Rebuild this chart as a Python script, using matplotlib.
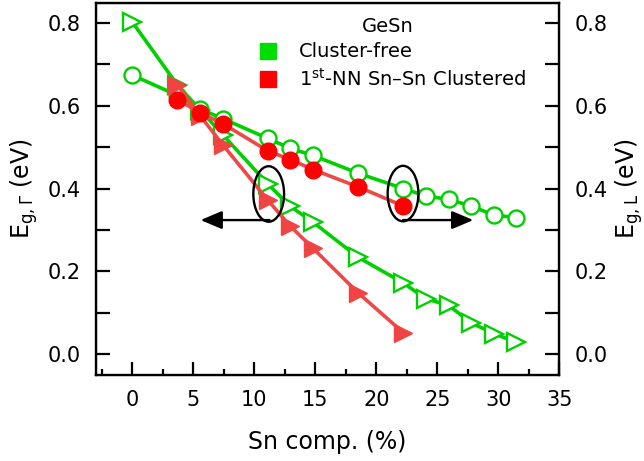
import matplotlib
matplotlib.use('Agg')
import matplotlib.pyplot as plt
from matplotlib.patches import Ellipse
from matplotlib.lines import Line2D
from matplotlib.ticker import MultipleLocator, FormatStrFormatter

# Sn composition (%)
sn_free = [0, 3.70, 5.56, 7.41, 11.11, 12.96, 14.81, 18.52, 22.22, 24.07, 25.93, 27.78, 29.63, 31.48]
sn_clus = [3.70, 5.56, 7.41, 11.11, 12.96, 14.81, 18.52, 22.22]

# cluster-free
eg_gamma_free = [0.802, 0.650, 0.590, 0.530, 0.411, 0.357, 0.319, 0.234, 0.172, 0.134, 0.118, 0.076, 0.050, 0.029]
eg_l_free = [0.674, 0.625, 0.592, 0.569, 0.521, 0.497, 0.480, 0.437, 0.400, 0.382, 0.374, 0.358, 0.336, 0.330]

# 1st-NN Sn-Sn clustered
eg_gamma_clus = [0.650, 0.576, 0.506, 0.372, 0.309, 0.256, 0.148, 0.052]
eg_l_clus = [0.615, 0.583, 0.557, 0.491, 0.470, 0.446, 0.404, 0.358]

green = '#00d000'
red_line = '#f04848'

fig = plt.figure(figsize=(6.44, 4.61), dpi=100)
ax = fig.add_axes([95.7 / 644, 1 - 375 / 461, 463.6 / 644, 372 / 461])

ax.plot(sn_free, eg_gamma_free, color=green, lw=2.6, marker='>', ms=13.5,
        mfc='white', mec=green, mew=1.7, zorder=3)
ax.plot(sn_free, eg_l_free, color=green, lw=2.6, marker='o', ms=11.5,
        mfc='white', mec=green, mew=1.7, zorder=3)
ax.plot(sn_clus, eg_gamma_clus, color=red_line, lw=2.6, marker='>', ms=13.5,
        mfc='#f04444', mec='#f04444', zorder=4)
ax.plot(sn_clus, eg_l_clus, color=red_line, lw=2.6, marker='o', ms=12,
        mfc='#ff0000', mec='#ff0000', zorder=4)

# ellipses + arrows indicating axes
for cx, cy in [(11.18, 0.387), (22.19, 0.388)]:
    ax.add_patch(Ellipse((cx, cy), 2.52, 0.134, fill=False, ec='k', lw=1.7, zorder=6))
arrow = dict(arrowstyle='-|>,head_length=1.3,head_width=0.55',
             mutation_scale=10, lw=1.7, color='k', shrinkA=0, shrinkB=0)
ax.annotate('', xy=(5.6, 0.324), xytext=(11.25, 0.324), arrowprops=arrow, zorder=6)
ax.annotate('', xy=(27.95, 0.324), xytext=(22.19, 0.324), arrowprops=arrow, zorder=6)

ax.set_xlim(-3, 35)
ax.set_ylim(-0.05, 0.848)
ax.xaxis.set_major_locator(MultipleLocator(5))
ax.xaxis.set_minor_locator(MultipleLocator(2.5))
ax.yaxis.set_major_locator(MultipleLocator(0.2))
ax.yaxis.set_minor_locator(MultipleLocator(0.1))
ax.yaxis.set_major_formatter(FormatStrFormatter('%.1f'))

ax.tick_params(axis='x', which='major', direction='in', length=9.5, width=1.6,
               labelsize=15, pad=11, top=False)
ax.tick_params(axis='x', which='minor', direction='in', length=4.5, width=1.6, top=False)
ax.tick_params(axis='y', which='both', direction='in', length=10, width=1.6,
               labelsize=15, pad=11)
for s in ax.spines.values():
    s.set_linewidth(1.7)

ax.set_xlabel('Sn comp. (%)', fontsize=17, labelpad=14)
ax.set_ylabel(r'E$_{\mathrm{g},\Gamma}$ (eV)', fontsize=17, labelpad=5)

ax2 = ax.twinx()
ax2.set_ylim(ax.get_ylim())
ax2.yaxis.set_major_locator(MultipleLocator(0.2))
ax2.yaxis.set_minor_locator(MultipleLocator(0.1))
ax2.yaxis.set_major_formatter(FormatStrFormatter('%.1f'))
ax2.tick_params(axis='y', which='both', direction='in', length=10, width=1.6,
                labelsize=15, pad=11)
ax2.set_ylabel(r'E$_{\mathrm{g,L}}$ (eV)', fontsize=17, labelpad=4)

handles = [Line2D([], [], ls='', marker='s', ms=12, mfc='#00dd00', mec='#00dd00'),
           Line2D([], [], ls='', marker='s', ms=12, mfc='#ff0000', mec='#ff0000')]
labels = ['Cluster-free', '1$^{\\mathrm{st}}$-NN Sn\u2013Sn Clustered']
leg = ax.legend(handles, labels, title='GeSn', fontsize=14, title_fontsize=14,
                frameon=False, loc='upper left', bbox_to_anchor=(0.30, 1.0),
                handletextpad=0.6, labelspacing=0.35, borderaxespad=0.3)

fig.savefig('out.png', dpi=100)
